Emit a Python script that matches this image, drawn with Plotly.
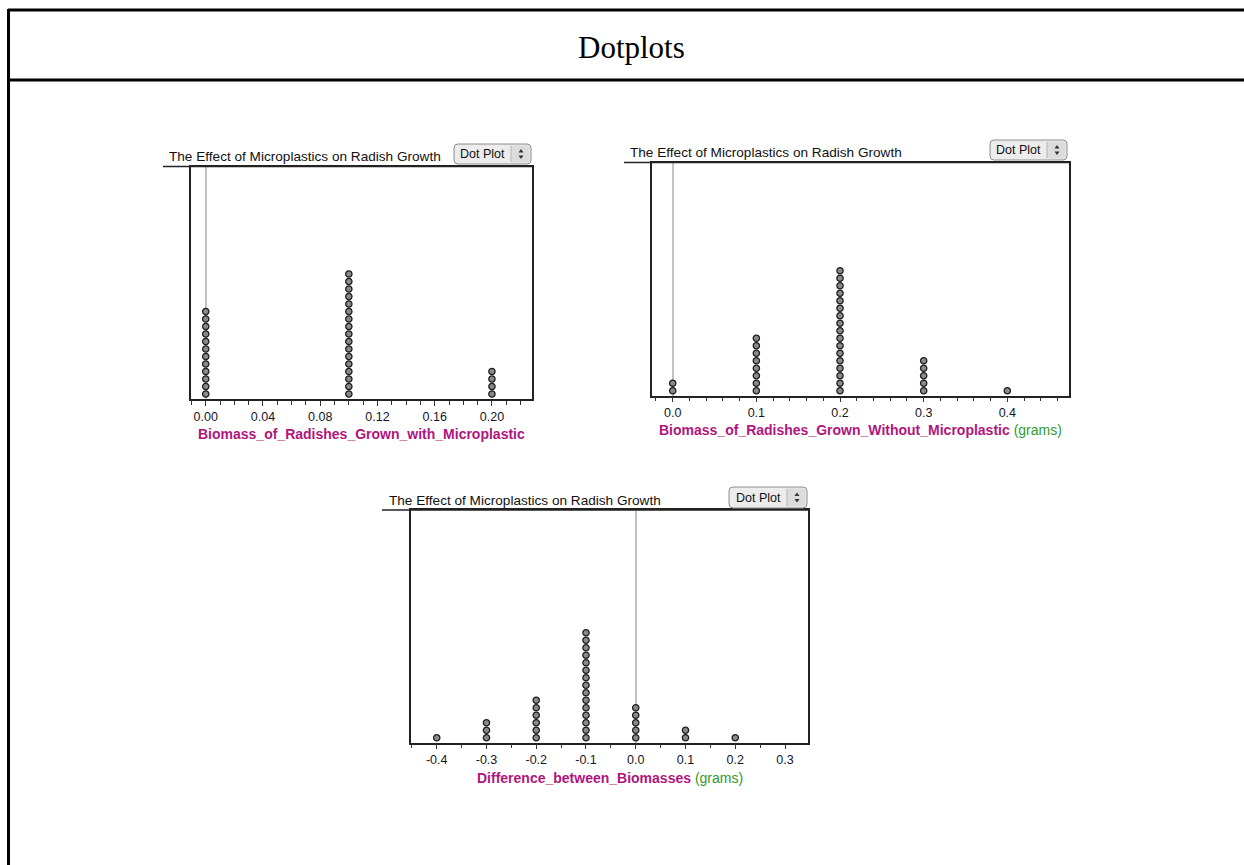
import plotly.graph_objects as go

W, H = 1244, 865

# ---------------- data ----------------
with_values = [0.00, 0.10, 0.20]
with_counts = [12, 17, 4]
with_ticks = [0.00, 0.04, 0.08, 0.12, 0.16, 0.20]
with_ticktext = ["0.00", "0.04", "0.08", "0.12", "0.16", "0.20"]

without_values = [0.0, 0.1, 0.2, 0.3, 0.4]
without_counts = [2, 8, 17, 5, 1]
without_ticks = [0.0, 0.1, 0.2, 0.3, 0.4]
without_ticktext = ["0.0", "0.1", "0.2", "0.3", "0.4"]

diff_values = [-0.4, -0.3, -0.2, -0.1, 0.0, 0.1, 0.2]
diff_counts = [1, 3, 6, 15, 5, 2, 1]
diff_ticks = [-0.4, -0.3, -0.2, -0.1, 0.0, 0.1, 0.2, 0.3]
diff_ticktext = ["-0.4", "-0.3", "-0.2", "-0.1", "0.0", "0.1", "0.2", "0.3"]

page_title = "Dotplots"
panel_title = "The Effect of Microplastics on Radish Growth"
button_label = "Dot Plot"
x_titles = [
    ("Biomass_of_Radishes_Grown_with_Microplastic", ""),
    ("Biomass_of_Radishes_Grown_Without_Microplastic", "(grams)"),
    ("Difference_between_Biomasses", "(grams)"),
]


def px(x):
    return x / W


def py(y):
    return 1 - y / H


def stack(values, counts):
    xs, ys = [], []
    for v, c in zip(values, counts):
        for k in range(c):
            xs.append(v)
            ys.append(k)
    return xs, ys


# panel geometry in pixels
panels = [
    dict(l=191, r=532, t=166.5, b=399, xr=[-0.0103, 0.228], minor=0.01,
         vals=with_values, cnts=with_counts, tv=with_ticks, tt=with_ticktext,
         title_x=167, title_y=156, line_x0=163, btn=(454, 144, 531, 164), xt_y=434),
    dict(l=651.7, r=1069, t=162.5, b=395.7, xr=[-0.0251, 0.4737], minor=0.02,
         vals=without_values, cnts=without_counts, tv=without_ticks, tt=without_ticktext,
         title_x=628, title_y=152, line_x0=624, btn=(990, 140, 1067, 160), xt_y=430),
    dict(l=410.7, r=808.3, t=510, b=742.7, xr=[-0.4523, 0.3468], minor=0.05,
         vals=diff_values, cnts=diff_counts, tv=diff_ticks, tt=diff_ticktext,
         title_x=387, title_y=500, line_x0=382, btn=(729, 487, 807, 508), xt_y=778),
]

SPACING = 7.5  # px between stacked dots
BASE = 5.0     # px from axis to first dot center

fig = go.Figure()
shapes = []
annotations = []
font_sans = "Liberation Sans, Arial, sans-serif"

for i, p in enumerate(panels):
    n = "" if i == 0 else str(i + 1)
    xs, ys = stack(p["vals"], p["cnts"])
    fig.add_trace(go.Scatter(
        x=xs, y=ys, mode="markers", xaxis="x" + n, yaxis="y" + n,
        marker=dict(size=6.3, color="#8a8a8a", line=dict(color="#1e1e1e", width=1.3)),
        showlegend=False, hoverinfo="x",
    ))
    height = p["b"] - p["t"]
    yr = [-BASE / SPACING, (height - BASE) / SPACING]
    fig.layout["xaxis" + n] = dict(
        domain=[px(p["l"]), px(p["r"])], anchor="y" + n, range=p["xr"],
        showline=True, linecolor="#222", linewidth=1.5, mirror=True,
        showgrid=False, zeroline=True, zerolinecolor="#c2c2c2", zerolinewidth=1.5,
        tickmode="array", tickvals=p["tv"], ticktext=p["tt"],
        ticks="outside", ticklen=5, tickwidth=1, tickcolor="#333",
        tickfont=dict(family=font_sans, size=12.5, color="#15152a"),
        minor=dict(tickmode="linear", tick0=0, dtick=p["minor"], ticks="outside",
                   ticklen=4, tickwidth=1, tickcolor="#333", showgrid=False),
        fixedrange=True,
    )
    fig.layout["yaxis" + n] = dict(
        domain=[py(p["b"]), py(p["t"])], anchor="x" + n, range=yr,
        showline=True, linecolor="#222", linewidth=1.5, mirror=True,
        showgrid=False, zeroline=False, showticklabels=False, ticks="",
        fixedrange=True,
    )
    # title underline
    shapes.append(dict(type="line", xref="paper", yref="paper",
                       x0=px(p["line_x0"]), x1=px(p["r"]), y0=py(p["t"]), y1=py(p["t"]),
                       line=dict(color="#222", width=1.5)))
    # panel title
    annotations.append(dict(text=panel_title, xref="paper", yref="paper",
                            x=px(p["title_x"]), y=py(p["title_y"]), xanchor="left", yanchor="middle",
                            showarrow=False, font=dict(family=font_sans, size=13.6, color="#111")))
    # axis title
    main, unit = x_titles[i]
    txt = f"<b>{main}</b>"
    if unit:
        txt += f" <span style='color:#2e9a2e'>{unit}</span>"
    annotations.append(dict(text=txt, xref="paper", yref="paper",
                            x=px((p["l"] + p["r"]) / 2), y=py(p["xt_y"]),
                            xanchor="center", yanchor="middle", showarrow=False,
                            font=dict(family=font_sans, size=14, color="#b0157e")))
    # button
    bx0, by0, bx1, by1 = p["btn"]
    r = 4
    path = (f"M {px(bx0 + r)} {py(by0)} L {px(bx1 - r)} {py(by0)} "
            f"Q {px(bx1)} {py(by0)} {px(bx1)} {py(by0 + r)} "
            f"L {px(bx1)} {py(by1 - r)} Q {px(bx1)} {py(by1)} {px(bx1 - r)} {py(by1)} "
            f"L {px(bx0 + r)} {py(by1)} Q {px(bx0)} {py(by1)} {px(bx0)} {py(by1 - r)} "
            f"L {px(bx0)} {py(by0 + r)} Q {px(bx0)} {py(by0)} {px(bx0 + r)} {py(by0)} Z")
    shapes.append(dict(type="path", xref="paper", yref="paper", path=path,
                       fillcolor="#ececec", line=dict(color="#8c8c8c", width=1)))
    shapes.append(dict(type="rect", xref="paper", yref="paper",
                       x0=px(bx1 - 20), x1=px(bx1 - 1.5), y0=py(by0 + 1.5), y1=py(by1 - 1.5),
                       fillcolor="#dcdcdc", line=dict(width=0)))
    shapes.append(dict(type="line", xref="paper", yref="paper",
                       x0=px(bx1 - 20), x1=px(bx1 - 20), y0=py(by0 + 2), y1=py(by1 - 2),
                       line=dict(color="#b5b5b5", width=1)))
    cx = bx1 - 10
    cy = (by0 + by1) / 2
    shapes.append(dict(type="path", xref="paper", yref="paper",
                       path=f"M {px(cx-2.5)} {py(cy-1.5)} L {px(cx+2.5)} {py(cy-1.5)} L {px(cx)} {py(cy-5)} Z",
                       fillcolor="#333", line=dict(width=0)))
    shapes.append(dict(type="path", xref="paper", yref="paper",
                       path=f"M {px(cx-2.5)} {py(cy+1.5)} L {px(cx+2.5)} {py(cy+1.5)} L {px(cx)} {py(cy+5)} Z",
                       fillcolor="#333", line=dict(width=0)))
    annotations.append(dict(text=button_label, xref="paper", yref="paper",
                            x=px((bx0 + bx1 - 20) / 2), y=py(cy), xanchor="center", yanchor="middle",
                            showarrow=False, font=dict(family=font_sans, size=12.5, color="#111")))

# page frame
frame_w = 3
shapes += [
    dict(type="line", xref="paper", yref="paper", x0=px(8), x1=px(W + 5), y0=py(10), y1=py(10),
         line=dict(color="#000", width=frame_w)),
    dict(type="line", xref="paper", yref="paper", x0=px(8), x1=px(W + 5), y0=py(80), y1=py(80),
         line=dict(color="#000", width=frame_w)),
    dict(type="line", xref="paper", yref="paper", x0=px(8.5), x1=px(8.5), y0=py(9), y1=py(H + 5),
         line=dict(color="#000", width=frame_w)),
]
annotations.append(dict(text=page_title, xref="paper", yref="paper", x=px(631), y=py(47),
                        xanchor="center", yanchor="middle", showarrow=False,
                        font=dict(family="Liberation Serif, Times New Roman, serif", size=31, color="#000")))

fig.update_layout(
    width=W, height=H, margin=dict(l=0, r=0, t=0, b=0),
    paper_bgcolor="white", plot_bgcolor="white",
    shapes=shapes, annotations=annotations, showlegend=False,
)

fig.write_html("out.html", config={"displayModeBar": False},
               post_script="document.body.style.margin='0';document.body.style.overflow='hidden';")
